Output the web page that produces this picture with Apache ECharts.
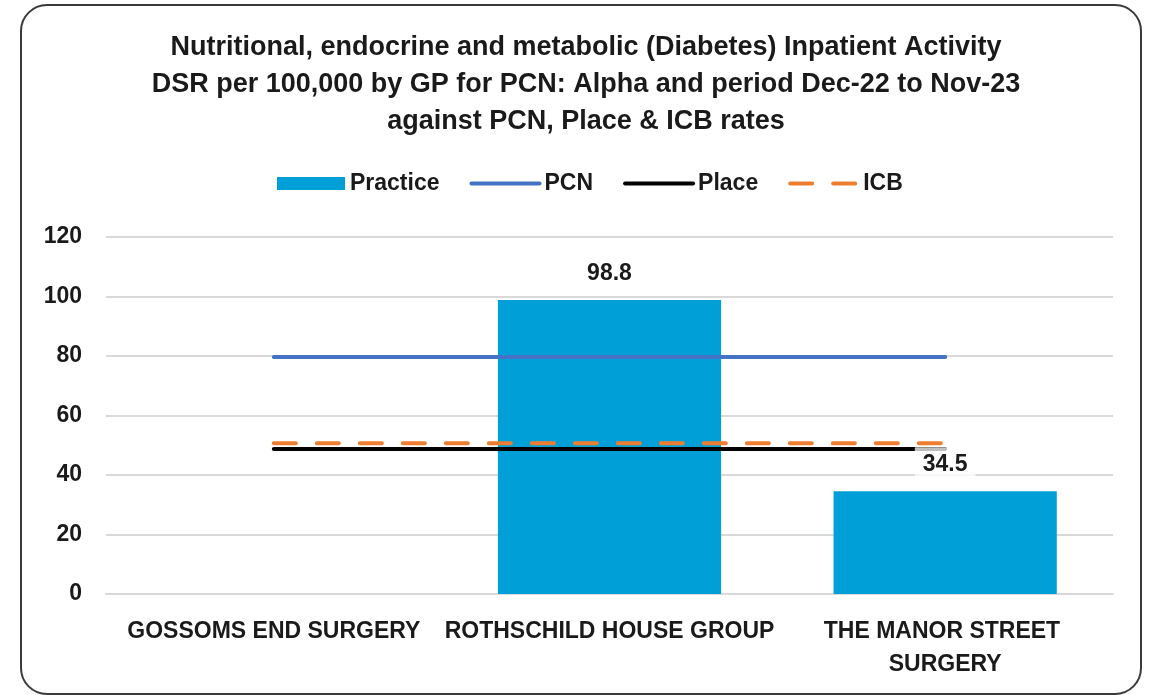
<!DOCTYPE html>
<html>
<head>
<meta charset="utf-8">
<script src="https://cdn.jsdelivr.net/npm/echarts@6/dist/echarts.min.js"></script>
<style>
  html, body { margin: 0; padding: 0; background: #fff; }
  #chart { width: 1149px; height: 695px; }
</style>
</head>
<body>
<div id="chart"></div>
<script>
let categories = ["GOSSOMS END SURGERY", "ROTHSCHILD HOUSE GROUP", "THE MANOR STREET SURGERY"];
let practice = [null, 98.8, 34.5];
let pcn = [79.7, 79.7, 79.7];
let place = [48.7, 48.7, 48.7];
let icb = [50.7, 50.7, 50.7];
let yTicks = { min: 0, max: 120, interval: 20 };

let font = "'Liberation Sans', Arial, sans-serif";
let chart = echarts.init(document.getElementById("chart"));

// line legend entries: hide the symbol dot, keep a thick line
let lineLegend = (name) => ({
  name: name,
  itemStyle: { opacity: 0 },
  lineStyle: { width: 4 },
});

let option = {
  animation: false,
  textStyle: { fontFamily: font },
  title: {
    text: "Nutritional, endocrine and metabolic (Diabetes) Inpatient Activity\nDSR per 100,000 by GP for PCN: Alpha and period Dec-22 to Nov-23\nagainst PCN, Place & ICB rates",
    left: 581,
    textAlign: "center",
    top: 24,
    textStyle: {
      fontFamily: font,
      fontSize: 27,
      fontWeight: "bold",
      color: "#1a1a1a",
      lineHeight: 37,
    },
  },
  legend: {
    top: 167,
    left: 272,
    itemWidth: 68,
    itemHeight: 13,
    itemGap: 30,
    data: [
      { name: "Practice", icon: "rect" },
      lineLegend("PCN"),
      lineLegend("Place"),
      lineLegend("ICB"),
    ],
    textStyle: { fontFamily: font, fontSize: 23, fontWeight: "bold", color: "#1a1a1a" },
  },
  graphic: [
    {
      type: "rect",
      shape: { x: 21, y: 5, width: 1120, height: 689, r: 26 },
      style: { fill: "none", stroke: "#3a3a3a", lineWidth: 2 },
      silent: true,
    },
  ],
  grid: { left: 106, right: 36, top: 237, bottom: 101 },
  xAxis: {
    type: "category",
    data: categories,
    axisTick: { show: false },
    axisLine: { lineStyle: { color: "#d9d9d9", width: 2 } },
    axisLabel: {
      color: "#1a1a1a",
      fontSize: 23,
      fontWeight: "bold",
      fontFamily: font,
      margin: 21,
      width: 345,
      overflow: "break",
      lineHeight: 33,
      interval: 0,
    },
  },
  yAxis: {
    type: "value",
    min: yTicks.min,
    max: yTicks.max,
    interval: yTicks.interval,
    axisLine: { show: false },
    axisTick: { show: false },
    splitLine: { lineStyle: { color: "#d9d9d9", width: 2 } },
    axisLabel: {
      color: "#1a1a1a",
      fontSize: 23,
      fontWeight: "bold",
      fontFamily: font,
      margin: 24,
    },
  },
  series: [
    {
      name: "Practice",
      type: "bar",
      data: practice,
      barWidth: "66.5%",
      itemStyle: { color: "#009fd7" },
      z: 1,
    },
    {
      name: "PCN",
      type: "line",
      data: pcn,
      symbol: "none",
      lineStyle: { color: "#4472c4", width: 4, cap: "round" },
      z: 2,
    },
    {
      name: "Place",
      type: "line",
      data: place,
      symbol: "none",
      lineStyle: { color: "#000000", width: 4, cap: "round" },
      z: 2,
    },
    {
      name: "ICB",
      type: "line",
      data: icb,
      symbol: "none",
      lineStyle: { color: "#ed7d31", width: 4, type: [22, 21], cap: "round" },
      z: 3,
    },
    {
      name: "PracticeLabels",
      type: "bar",
      data: practice,
      barWidth: "66.5%",
      barGap: "-100%",
      itemStyle: { color: "rgba(0,0,0,0)" },
      z: 5,
      label: {
        show: true,
        position: "top",
        distance: 9,
        fontFamily: font,
        fontSize: 23,
        fontWeight: "bold",
        color: "#1a1a1a",
        backgroundColor: "rgba(255,255,255,0.75)",
        padding: [6, 8],
      },
    },
  ],
};
chart.setOption(option);
</script>
</body>
</html>
